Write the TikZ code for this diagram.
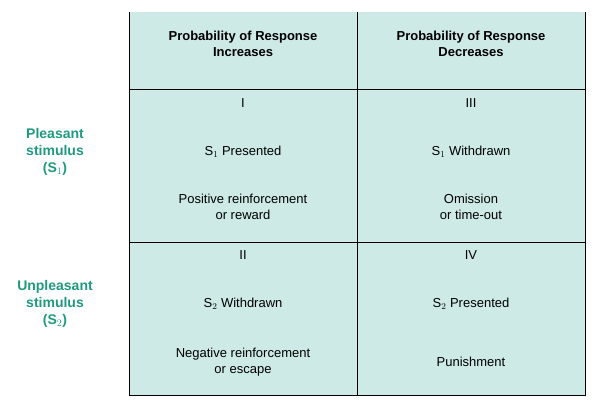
\documentclass[tikz,border=0pt]{standalone}
\usepackage{fontspec}
\setmainfont{Liberation Sans}
\definecolor{cellfill}{HTML}{CDEAE6}
\definecolor{sidegreen}{HTML}{1E9A80}
\begin{document}
\begin{tikzpicture}[x=1pt,y=-1pt,
                every node/.style = {align=center, font=\fontsize{13}{15.5}\selectfont},
                head/.style = {font=\bfseries\fontsize{13}{16}\selectfont},
                side/.style = {text=sidegreen, font=\bfseries\fontsize{14}{17}\selectfont}]
    \useasboundingbox (0,0) rectangle (600,409);
    \fill[cellfill] (129,12) rectangle (585,395);
    \draw[line width=1pt] (129,12) -- (129,395) -- (585,395) -- (585,12);
    \draw[line width=1pt] (357,12) -- (357,395);
    \draw[line width=1pt] (129,90) -- (585,90);
    \draw[line width=1pt] (129,242) -- (585,242);
    % header
    \node[head] (hinc) at (243,44) {Probability of Response\\Increases};
    \node[head] (hdec) at (471,44) {Probability of Response\\Decreases};
    % side labels
    \node[side] (pleas) at (55,152) {Pleasant\\stimulus\\(S$_1$)};
    \node[side] (unpl) at (55,304) {Unpleasant\\stimulus\\(S$_2$)};
    % cells
    \node (n1) at (243,103) {I};
    \node (p1) at (243,152) {S$_1$ Presented};
    \node (r1) at (243,207) {Positive reinforcement\\or reward};
    \node (n3) at (471,103) {III};
    \node (p3) at (471,152) {S$_1$ Withdrawn};
    \node (r3) at (471,207) {Omission\\or time-out};
    \node (n2) at (243,255) {II};
    \node (p2) at (243,304) {S$_2$ Withdrawn};
    \node (r2) at (243,362) {Negative reinforcement\\or escape};
    \node (n4) at (471,255) {IV};
    \node (p4) at (471,304) {S$_2$ Presented};
    \node (r4) at (471,362) {Punishment};
\end{tikzpicture}
\end{document}
